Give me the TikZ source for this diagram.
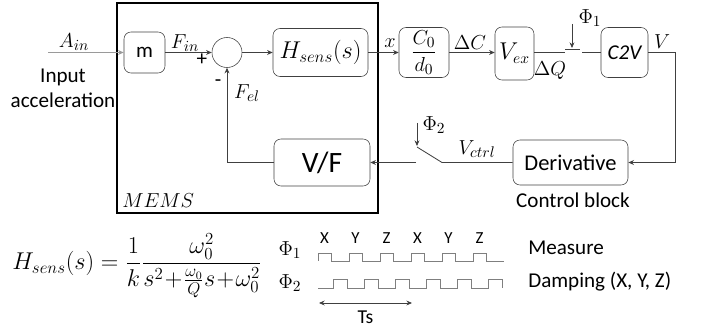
\documentclass[tikz,border=0pt]{standalone}
\usepackage{amsmath}
\usepackage[no-math]{fontspec}
\setmainfont{Carlito}
\usetikzlibrary{arrows.meta}
\definecolor{linegray}{HTML}{404040}
\definecolor{ingray}{HTML}{9A9A9A}
\definecolor{wavegray}{HTML}{7F7F7F}

\begin{document}
\begin{tikzpicture}[x=0.025cm, y=-0.025cm,
        >={Stealth[length=4pt,width=3.5pt]},
        block/.style={draw=linegray, rounded corners=5pt, inner sep=0pt, font=\fontsize{15}{18}\selectfont},
        sig/.style={draw=linegray, line width=0.6pt},
        lbl/.style={inner sep=0pt, font=\fontsize{15}{18}\selectfont},
        wave/.style={draw=wavegray, line width=0.6pt}
    ]
        \useasboundingbox (0,0) rectangle (717,326);

        % MEMS part
        \node[draw=black, line width=1pt, minimum width=6.525cm, minimum height=5.25cm] (mems) at (247.5,108) {};
        \node[lbl, anchor=base west] (memsname) at (122,208) {$MEMS$};
        \node[block, minimum width=1.025cm, minimum height=1.025cm] (m) at (144.5,52.5) {m};
        \node[draw=linegray, circle, minimum size=0.75cm, inner sep=0pt] (sum) at (227,52.5) {};
        \node[block, minimum width=2.375cm, minimum height=1.2cm, font=\fontsize{18}{20}\selectfont] (hs) at (320.5,52.5) {$H_{sens}(s)$};
        \node[block, minimum width=2.4cm, minimum height=1.175cm, font=\fontsize{21}{24}\selectfont] (vf) at (322,162.5) {V/F};

        % read-out chain
        \node[block, minimum width=1.25cm, minimum height=1.25cm] (cd) at (424,52.5) {$\dfrac{C_0}{d_0}$};
        \node[block, minimum width=0.975cm, minimum height=1.325cm, font=\fontsize{16}{19}\selectfont] (vex) at (514.5,53.5) {$V_{ex}$};
        \node[block, minimum width=1.175cm, minimum height=1.25cm] (c2v) at (624.5,52.5) {\itshape C2V};
        \node[block, minimum width=2.875cm, minimum height=1.125cm, font=\fontsize{16}{19}\selectfont] (der) at (570.5,162.5) {Derivative};

        \coordinate (ain) at (48,52.5);
        \coordinate (sw1a) at (565,52.5);
        \coordinate (sw1b) at (565,49.5);
        \coordinate (sw1c) at (580,49.5);
        \coordinate (sw1d) at (582,52.5);
        \coordinate (p1a) at (572,24);
        \coordinate (p1b) at (572,48);
        \coordinate (vr) at (675,52.5);
        \coordinate (sw2a) at (442,162.5);
        \coordinate (sw2b) at (417,147);
        \coordinate (sw2c) at (416,162.5);
        \coordinate (p2a) at (417,123);
        \coordinate (p2b) at (417,146);

        \draw[draw=ingray, line width=0.6pt, ->] (ain) -- (m.west);
        \draw[sig,->] (m.east) -- (sum.west);
        \draw[sig,->] (sum.east) -- (hs.west);
        \draw[sig,->] (hs.east) -- (cd.west);
        \draw[sig,->] (cd.east) -- (vex.west |- cd.east);
        \draw[sig] (vex.east |- sw1a) -- (sw1a);
        \draw[sig] (sw1b) -- (sw1c);
        \draw[sig] (sw1d) -- (c2v.west);
        \draw[sig,->] (p1a) -- (p1b);
        \draw[sig,->] (c2v.east) -- (vr) |- (der.east);
        \draw[sig] (der.west) -- (sw2a) -- (sw2b);
        \draw[sig,->] (p2a) -- (p2b);
        \draw[sig,->] (sw2c) -- (vf.east);
        \draw[sig,->] (vf.west) -| (sum.south);

        % signal labels
        \node[lbl] (ainlbl) at (74,42) {$A_{in}$};
        \node[lbl, align=center] (inlbl) at (63,88) {Input\\acceleration};
        \node[lbl] (finlbl) at (185,43) {$F_{in}$};
        \node[lbl] (plus) at (202,60) {+};
        \node[lbl] (minus) at (218,83) {-};
        \node[lbl] (fellbl) at (247,93) {$F_{el}$};
        \node[lbl] (xlbl) at (390,43) {$x$};
        \node[lbl] (dclbl) at (470,43) {$\Delta C$};
        \node[lbl] (dqlbl) at (550,71) {$\Delta Q$};
        \node[lbl] (vlbl) at (662,42) {$V$};
        \node[lbl] (phi1) at (590,18) {$\Phi_1$};
        \node[lbl] (phi2) at (434,125) {$\Phi_2$};
        \node[lbl] (vctrl) at (477,149) {$V_{ctrl}$};
        \node[lbl] (ctrlblk) at (573,200) {Control block};

        % transfer function and clock phases
        \node[inner sep=0pt, anchor=west, font=\fontsize{17}{20}\selectfont] (tf) at (12,266)
            {$\displaystyle H_{sens}(s)=\frac{1}{k}\frac{\omega_0^2}{s^2\!+\!\frac{\omega_0}{Q}s\!+\!\omega_0^2}$};
        \node[lbl] (ph1) at (290,250) {$\Phi_1$};
        \node[lbl] (ph2) at (290,283) {$\Phi_2$};
        \draw[wave] (318,261) \foreach \k in {0,...,5} { -- (318+31*\k,253) -- (331+31*\k,253) -- (331+31*\k,261) -- (349+31*\k,261)};
        \draw[wave] (318,288) \foreach \k in {0,...,5} { -- (333+31*\k,288) -- (333+31*\k,279) -- (347+31*\k,279) -- (347+31*\k,288)};
        \foreach \ax [count=\i from 0] in {X,Y,Z,X,Y,Z}
            \node[inner sep=0pt, font=\fontsize{12}{14}\selectfont] (axis\i) at (324.5+31*\i,238) {\ax};
        \node[lbl, anchor=west] (meas) at (528,248) {Measure};
        \node[lbl, anchor=west] (damp) at (528,282) {Damping (X, Y, Z)};
        \coordinate (ts1) at (319,303);
        \coordinate (ts2) at (412,303);
        \draw[sig,<->] (ts1) -- node[below=5pt, inner sep=0pt, font=\fontsize{14}{16}\selectfont] (tslbl) {Ts} (ts2);
    \end{tikzpicture}
\end{document}
